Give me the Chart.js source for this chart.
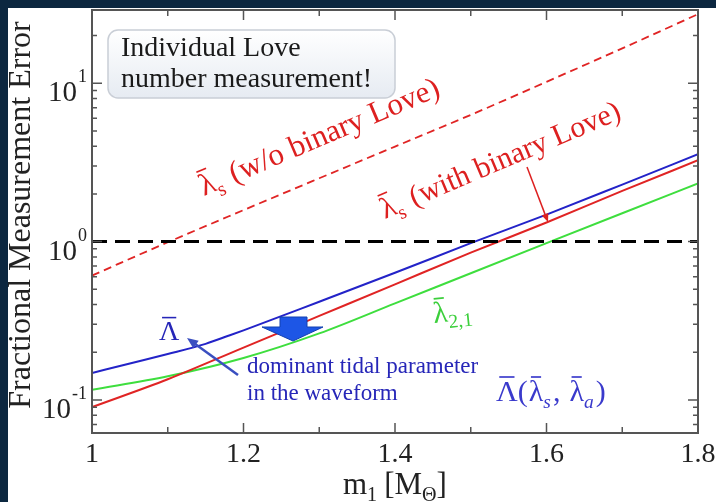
<!DOCTYPE html>
<html>
<head>
<meta charset="utf-8">
<script src="https://cdn.jsdelivr.net/npm/chart.js@4.4.1/dist/chart.umd.min.js"></script>
<style>
  html, body { margin: 0; padding: 0; background: #0c2740; overflow: hidden; }
  #wrap { width: 716px; height: 502px; }
</style>
</head>
<body>
<div id="wrap"><canvas id="myChart" width="716" height="502"></canvas></div>
<script>
// primary mass m1 [Msun]
var mass = [1.0, 1.1, 1.2, 1.3, 1.4, 1.5, 1.6, 1.7, 1.8];
// fractional errors
var lamSNoBinLove = [0.61, 0.99, 1.58, 2.51, 3.98, 6.31, 10.2, 16.6, 27.3];
var lamSBinLove = [0.090, 0.135, 0.214, 0.339, 0.537, 0.851, 1.32, 2.09, 3.26];
var lam21 = [0.116, 0.141, 0.184, 0.263, 0.407, 0.631, 0.977, 1.51, 2.33];
var massBig = [1.0, 1.05, 1.1, 1.15, 1.18, 1.2, 1.3, 1.4, 1.5, 1.6, 1.7, 1.8];
var bigLambda = [0.148, 0.170, 0.195, 0.226, 0.254, 0.275, 0.417, 0.635, 0.977, 1.48, 2.29, 3.56];
var refMass = [1.0, 1.8];
var refErr = [1, 1];

// axes
var xRange = [1, 1.8];
var yRange = [0.0618, 29];
var xMajor = [1, 1.2, 1.4, 1.6, 1.8];
var xLabels = ['1', '1.2', '1.4', '1.6', '1.8'];
var xMinor = [1.1, 1.3, 1.5, 1.7];
var yMajor = [0.1, 1, 10];
var yExp = ['-1', '0', '1'];
var yMinor = [0.07, 0.08, 0.09, 0.2, 0.3, 0.4, 0.5, 0.6, 0.7, 0.8, 0.9, 2, 3, 4, 5, 6, 7, 8, 9, 20];

var SERIF = '"Liberation Serif", "Times New Roman", serif';

function pts(xs, ys) {
    return xs.map(function (x, i) { return { x: x, y: ys[i] }; });
}

function richText(ctx, x, y, segs, size, color, angle) {
    ctx.save();
    ctx.translate(x, y);
    ctx.rotate((angle || 0) * Math.PI / 180);
    ctx.fillStyle = color;
    ctx.strokeStyle = color;
    ctx.textAlign = 'left';
    ctx.textBaseline = 'alphabetic';
    var cx = 0;
    segs.forEach(function (s) {
        var fs = (s.sub || s.sup) ? size * 0.65 : size;
        var dy = s.sub ? size * 0.22 : (s.sup ? -size * 0.42 : 0);
        ctx.font = (s.it ? 'italic ' : '') + fs + 'px ' + SERIF;
        ctx.fillText(s.t, cx, dy);
        var w = ctx.measureText(s.t).width;
        if (s.bar) {
            ctx.lineWidth = Math.max(1, size / 18);
            ctx.beginPath();
            ctx.moveTo(cx + w * 0.15, dy - fs * 0.8);
            ctx.lineTo(cx + w * 0.85, dy - fs * 0.8);
            ctx.stroke();
        }
        cx += w + (s.gap || 0);
    });
    ctx.restore();
}

function arrow(ctx, x1, y1, x2, y2, color, lw, head) {
    var a = Math.atan2(y2 - y1, x2 - x1);
    ctx.save();
    ctx.strokeStyle = color;
    ctx.fillStyle = color;
    ctx.lineWidth = lw;
    ctx.beginPath();
    ctx.moveTo(x1, y1);
    ctx.lineTo(x2 - Math.cos(a) * head * 0.7, y2 - Math.sin(a) * head * 0.7);
    ctx.stroke();
    ctx.beginPath();
    ctx.moveTo(x2, y2);
    ctx.lineTo(x2 - head * Math.cos(a - 0.4), y2 - head * Math.sin(a - 0.4));
    ctx.lineTo(x2 - head * Math.cos(a + 0.4), y2 - head * Math.sin(a + 0.4));
    ctx.closePath();
    ctx.fill();
    ctx.restore();
}

var decor = {
    id: 'decor',
    beforeDraw: function (chart) {
        var ctx = chart.ctx;
        ctx.save();
        ctx.fillStyle = '#0c2740';
        ctx.fillRect(0, 0, chart.width, chart.height);
        ctx.fillStyle = '#ffffff';
        ctx.fillRect(8, 8, chart.width - 8, chart.height - 8);
        ctx.restore();
    },
    afterDraw: function (chart) {
        var ctx = chart.ctx, a = chart.chartArea;
        var xs = chart.scales.x, ys = chart.scales.y;
        ctx.save();
        // frame + inward ticks on all four sides
        ctx.strokeStyle = '#555';
        ctx.lineWidth = 2;
        ctx.strokeRect(a.left, a.top, a.right - a.left, a.bottom - a.top);
        ctx.lineWidth = 1.5;
        function xt(v, len) {
            var p = xs.getPixelForValue(v);
            ctx.beginPath();
            ctx.moveTo(p, a.bottom); ctx.lineTo(p, a.bottom - len);
            ctx.moveTo(p, a.top); ctx.lineTo(p, a.top + len);
            ctx.stroke();
        }
        function yt(v, len) {
            var p = ys.getPixelForValue(v);
            ctx.beginPath();
            ctx.moveTo(a.left, p); ctx.lineTo(a.left + len, p);
            ctx.moveTo(a.right, p); ctx.lineTo(a.right - len, p);
            ctx.stroke();
        }
        xMajor.forEach(function (v) { xt(v, 10); });
        xMinor.forEach(function (v) { xt(v, 6); });
        yMajor.forEach(function (v) { yt(v, 10); });
        yMinor.forEach(function (v) { yt(v, 5); });

        // tick labels
        ctx.fillStyle = '#222';
        ctx.font = '28px ' + SERIF;
        ctx.textAlign = 'center';
        ctx.textBaseline = 'alphabetic';
        xMajor.forEach(function (v, i) {
            ctx.fillText(xLabels[i], xs.getPixelForValue(v), 462);
        });
        yMajor.forEach(function (v, i) {
            var p = ys.getPixelForValue(v);
            ctx.font = '29px ' + SERIF;
            var wb = ctx.measureText('10').width;
            ctx.font = '18px ' + SERIF;
            var we = ctx.measureText(yExp[i]).width;
            var x0 = 87 - wb - we - 1;
            ctx.textAlign = 'left';
            ctx.font = '29px ' + SERIF;
            ctx.fillText('10', x0, p + 18);
            ctx.font = '18px ' + SERIF;
            ctx.fillText(yExp[i], x0 + wb + 1, p - 1);
        });

        // axis titles
        ctx.save();
        ctx.translate(22, 215);
        ctx.rotate(-Math.PI / 2);
        ctx.textAlign = 'center';
        ctx.textBaseline = 'middle';
        ctx.font = '32px ' + SERIF;
        ctx.fillStyle = '#222';
        ctx.fillText('Fractional Measurement Error', 0, 0);
        ctx.restore();
        richText(ctx, 343, 494, [
            { t: 'm' }, { t: '1', sub: true, gap: 7 }, { t: '[M' }, { t: 'Θ', sub: true }, { t: ']' }
        ], 31, '#222');

        // info box
        ctx.save();
        var g = ctx.createLinearGradient(0, 30, 0, 98);
        g.addColorStop(0, '#ffffff');
        g.addColorStop(1, '#e6ebf2');
        ctx.fillStyle = g;
        ctx.strokeStyle = '#c9ced6';
        ctx.lineWidth = 1.5;
        ctx.beginPath();
        ctx.roundRect(108, 30, 287, 68, 10);
        ctx.fill();
        ctx.stroke();
        ctx.fillStyle = '#1a1a1a';
        ctx.font = '28px ' + SERIF;
        ctx.textAlign = 'left';
        ctx.fillText('Individual Love', 121, 56);
        ctx.fillText('number measurement!', 121, 87);
        ctx.restore();

        // curve labels
        var red = '#dd2020', blue = '#2626b8', green = '#3ccf3c';
        richText(ctx, 204, 196, [
            { t: 'λ', bar: true }, { t: 's', sub: true, gap: 2 }, { t: ' (w/o binary Love)' }
        ], 31, red, -23);
        richText(ctx, 385, 219, [
            { t: 'λ', bar: true }, { t: 's', sub: true, gap: 2 }, { t: ' (with binary Love)' }
        ], 30, red, -23);
        arrow(ctx, 527, 167, 548, 222, red, 1.5, 9);
        richText(ctx, 434, 323, [
            { t: 'λ', bar: true }, { t: '2,1', sub: true }
        ], 30, green, -6);
        richText(ctx, 159, 340, [{ t: 'Λ', bar: true }], 28, blue, 0);
        arrow(ctx, 238, 375, 187, 338, '#3a4fc0', 2.5, 12);
        ctx.fillStyle = blue;
        ctx.font = '23px ' + SERIF;
        ctx.textAlign = 'left';
        ctx.fillText('dominant tidal parameter', 247, 373);
        ctx.fillText('in the waveform', 247, 400);
        richText(ctx, 496, 401, [
            { t: 'Λ', bar: true }, { t: '(', gap: 1 }, { t: 'λ', bar: true }, { t: 's', sub: true, it: true, gap: 2 },
            { t: ',', gap: 9 }, { t: 'λ', bar: true }, { t: 'a', sub: true, it: true, gap: 2 }, { t: ')' }
        ], 30, '#3a3acc', 0);

        // block arrow (moving down)
        ctx.fillStyle = '#1d56e6';
        ctx.strokeStyle = '#1240b0';
        ctx.lineWidth = 1;
        ctx.beginPath();
        ctx.moveTo(280, 317); ctx.lineTo(307, 317); ctx.lineTo(307, 327); ctx.lineTo(323, 327);
        ctx.lineTo(293, 341); ctx.lineTo(262, 327); ctx.lineTo(280, 327);
        ctx.closePath();
        ctx.fill();
        ctx.stroke();
        ctx.restore();
    }
};

var ctx = document.getElementById('myChart');
var myChart = new Chart(ctx.getContext('2d'), {
    type: 'line',
    data: {
        datasets: [
            { label: 'ref', data: pts(refMass, refErr), borderColor: '#000', borderWidth: 3, borderDash: [15, 8], order: 0 },
            { label: 'lambda_s w/o binary Love', data: pts(mass, lamSNoBinLove), borderColor: '#e02424', borderWidth: 1.8, borderDash: [8, 5], order: 1 },
            { label: 'Lambda bar', data: pts(massBig, bigLambda), borderColor: '#2323c8', borderWidth: 2, order: 1 },
            { label: 'lambda_s with binary Love', data: pts(mass, lamSBinLove), borderColor: '#e02424', borderWidth: 2, order: 1 },
            { label: 'lambda_2,1', data: pts(mass, lam21), borderColor: '#3ede3e', borderWidth: 2, order: 1 }
        ]
    },
    options: {
        responsive: false,
        animation: false,
        layout: { padding: { left: 92, right: 18, top: 10, bottom: 69 } },
        elements: { point: { radius: 0 }, line: { cubicInterpolationMode: 'monotone' } },
        plugins: { legend: { display: false }, tooltip: { enabled: false } },
        scales: {
            x: { type: 'linear', min: xRange[0], max: xRange[1], display: false },
            y: { type: 'logarithmic', min: yRange[0], max: yRange[1], display: false }
        }
    },
    plugins: [decor]
});
</script>
</body>
</html>
